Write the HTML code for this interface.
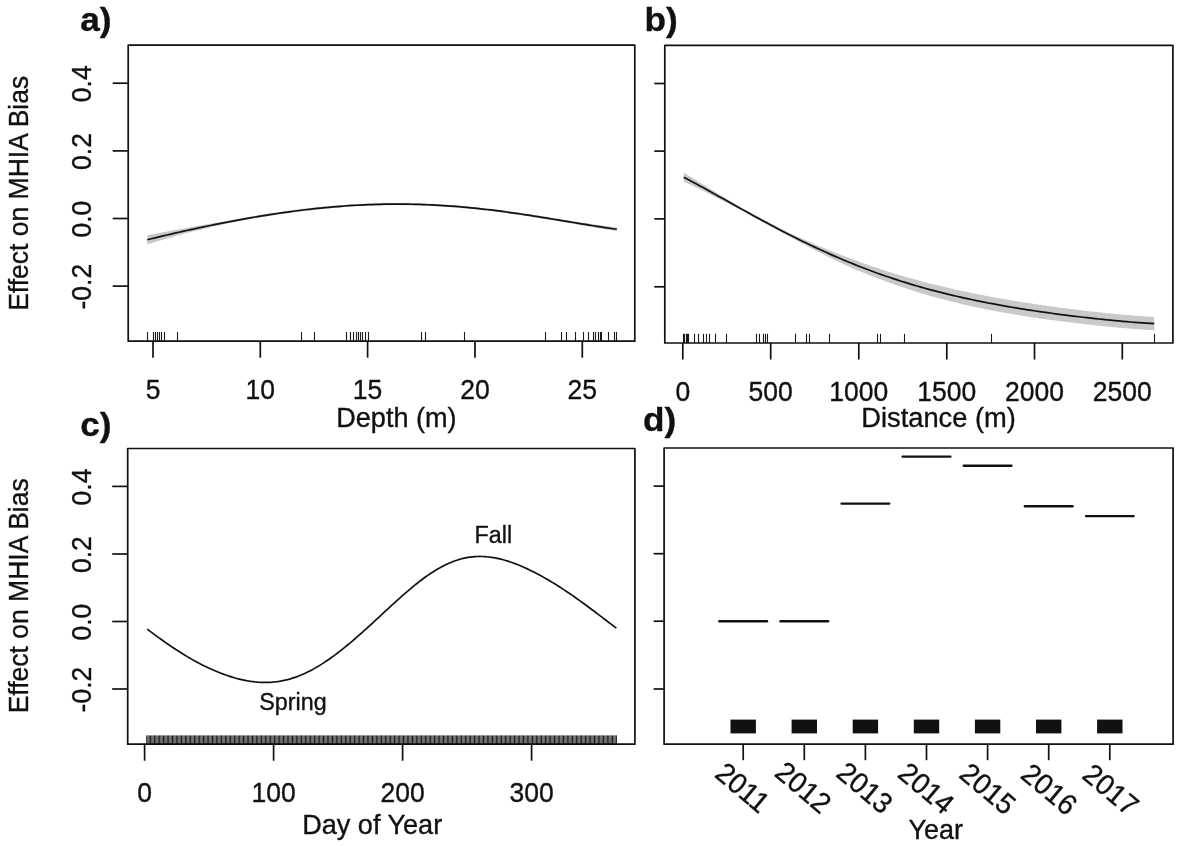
<!DOCTYPE html>
<html lang="en">
<head>
<meta charset="utf-8">
<title>Effect on MHIA Bias - GAM partial effects</title>
<style>
html,body{margin:0;padding:0;background:#fff;}
body{width:1180px;height:846px;overflow:hidden;}
svg{display:block;filter:blur(0.45px);}
svg text{font-family:"Liberation Sans", Arial, Helvetica, sans-serif;fill:#111111;stroke:#111111;stroke-width:0.35px;stroke-linejoin:round;}
</style>
</head>
<body>
<svg width="1180" height="846" viewBox="0 0 1180 846">
<rect x="0" y="0" width="1180" height="846" fill="#ffffff"/>
<rect x="128.20" y="45.20" width="506.60" height="296.00" fill="none" stroke="#111111" stroke-width="1.7" stroke-linejoin="round"/>
<line x1="112.70" y1="83.20" x2="128.20" y2="83.20" stroke="#111111" stroke-width="1.7" stroke-linecap="butt"/>
<text transform="translate(90.80 83.80) rotate(-90) scale(1.0 1.04)" font-size="26.5" text-anchor="middle" font-weight="normal">0.4</text>
<line x1="112.70" y1="150.90" x2="128.20" y2="150.90" stroke="#111111" stroke-width="1.7" stroke-linecap="butt"/>
<text transform="translate(90.80 151.50) rotate(-90) scale(1.0 1.04)" font-size="26.5" text-anchor="middle" font-weight="normal">0.2</text>
<line x1="112.70" y1="218.50" x2="128.20" y2="218.50" stroke="#111111" stroke-width="1.7" stroke-linecap="butt"/>
<text transform="translate(90.80 219.10) rotate(-90) scale(1.0 1.04)" font-size="26.5" text-anchor="middle" font-weight="normal">0.0</text>
<line x1="112.70" y1="286.10" x2="128.20" y2="286.10" stroke="#111111" stroke-width="1.7" stroke-linecap="butt"/>
<text transform="translate(90.80 286.70) rotate(-90) scale(1.0 1.04)" font-size="26.5" text-anchor="middle" font-weight="normal">-0.2</text>
<line x1="153.00" y1="341.20" x2="153.00" y2="357.70" stroke="#111111" stroke-width="1.7" stroke-linecap="butt"/>
<text transform="translate(153.00 399.00) scale(1.0 1.04)" font-size="26.5" text-anchor="middle" font-weight="normal">5</text>
<line x1="260.30" y1="341.20" x2="260.30" y2="357.70" stroke="#111111" stroke-width="1.7" stroke-linecap="butt"/>
<text transform="translate(260.30 399.00) scale(1.0 1.04)" font-size="26.5" text-anchor="middle" font-weight="normal">10</text>
<line x1="367.60" y1="341.20" x2="367.60" y2="357.70" stroke="#111111" stroke-width="1.7" stroke-linecap="butt"/>
<text transform="translate(367.60 399.00) scale(1.0 1.04)" font-size="26.5" text-anchor="middle" font-weight="normal">15</text>
<line x1="475.00" y1="341.20" x2="475.00" y2="357.70" stroke="#111111" stroke-width="1.7" stroke-linecap="butt"/>
<text transform="translate(475.00 399.00) scale(1.0 1.04)" font-size="26.5" text-anchor="middle" font-weight="normal">20</text>
<line x1="582.30" y1="341.20" x2="582.30" y2="357.70" stroke="#111111" stroke-width="1.7" stroke-linecap="butt"/>
<text transform="translate(582.30 399.00) scale(1.0 1.04)" font-size="26.5" text-anchor="middle" font-weight="normal">25</text>
<text transform="translate(396.40 427.20) scale(1.0 1.04)" font-size="27.1" text-anchor="middle" font-weight="normal">Depth (m)</text>
<text transform="translate(27.70 193.30) rotate(-90) scale(1.0 1.04)" font-size="26.5" text-anchor="middle" font-weight="normal">Effect on MHIA Bias</text>
<text transform="translate(80.30 31.20) scale(1.04 1.0)" font-size="33.8" text-anchor="start" font-weight="bold" stroke-width="0.1">a)</text>
<path d="M147.30,235.15 L151.25,234.41 L155.19,233.67 L159.14,232.94 L163.08,232.22 L167.03,231.51 L170.97,230.81 L174.92,230.11 L178.86,229.43 L182.81,228.70 L186.75,227.95 L190.70,227.21 L194.64,226.49 L198.59,225.77 L202.54,225.06 L206.48,224.37 L210.43,223.68 L214.37,223.01 L218.32,222.34 L222.26,221.69 L226.21,221.01 L230.15,220.26 L234.10,219.52 L238.04,218.79 L241.99,218.08 L245.93,217.38 L249.88,216.69 L253.83,216.01 L257.77,215.35 L261.72,214.71 L265.66,214.07 L269.61,213.45 L273.55,212.85 L277.50,212.26 L281.44,211.69 L285.39,211.14 L289.33,210.60 L293.28,210.07 L297.22,209.57 L301.17,209.08 L305.12,208.61 L309.06,208.15 L313.01,207.72 L316.95,207.30 L320.90,206.90 L324.84,206.52 L328.79,206.15 L332.73,205.81 L336.68,205.49 L340.62,205.18 L344.57,204.90 L348.51,204.63 L352.46,204.39 L356.41,204.17 L360.35,203.96 L364.30,203.78 L368.24,203.62 L372.19,203.48 L376.13,203.36 L380.08,203.26 L384.02,203.19 L387.97,203.13 L391.91,203.10 L395.86,203.09 L399.80,203.10 L403.75,203.12 L407.69,203.16 L411.64,203.22 L415.59,203.31 L419.53,203.41 L423.48,203.54 L427.42,203.69 L431.37,203.86 L435.31,204.06 L439.26,204.27 L443.20,204.50 L447.15,204.76 L451.09,205.03 L455.04,205.33 L458.98,205.64 L462.93,205.98 L466.88,206.34 L470.82,206.71 L474.77,207.10 L478.71,207.51 L482.66,207.94 L486.60,208.39 L490.55,208.85 L494.49,209.33 L498.44,209.82 L502.38,210.33 L506.33,210.86 L510.27,211.40 L514.22,211.95 L518.17,212.52 L522.11,213.09 L526.06,213.68 L530.00,214.28 L533.95,214.89 L537.89,215.51 L541.84,216.13 L545.78,216.76 L549.73,217.40 L553.67,218.04 L557.62,218.69 L561.56,219.32 L565.51,219.94 L569.46,220.55 L573.40,221.16 L577.35,221.78 L581.29,222.39 L585.24,222.99 L589.18,223.59 L593.13,224.18 L597.07,224.76 L601.02,225.33 L604.96,225.89 L608.91,226.44 L612.85,226.97 L616.80,227.48 L616.80,231.08 L612.85,230.48 L608.91,229.86 L604.96,229.24 L601.02,228.59 L597.07,227.94 L593.13,227.27 L589.18,226.60 L585.24,225.92 L581.29,225.23 L577.35,224.54 L573.40,223.85 L569.46,223.15 L565.51,222.45 L561.56,221.76 L557.62,221.08 L553.67,220.43 L549.73,219.77 L545.78,219.13 L541.84,218.48 L537.89,217.85 L533.95,217.22 L530.00,216.60 L526.06,216.00 L522.11,215.40 L518.17,214.81 L514.22,214.24 L510.27,213.67 L506.33,213.12 L502.38,212.59 L498.44,212.07 L494.49,211.56 L490.55,211.08 L486.60,210.60 L482.66,210.15 L478.71,209.71 L474.77,209.29 L470.82,208.89 L466.88,208.50 L462.93,208.14 L458.98,207.79 L455.04,207.47 L451.09,207.16 L447.15,206.88 L443.20,206.61 L439.26,206.37 L435.31,206.14 L431.37,205.94 L427.42,205.76 L423.48,205.60 L419.53,205.46 L415.59,205.35 L411.64,205.25 L407.69,205.18 L403.75,205.13 L399.80,205.10 L395.86,205.10 L391.91,205.13 L387.97,205.17 L384.02,205.24 L380.08,205.33 L376.13,205.44 L372.19,205.57 L368.24,205.73 L364.30,205.90 L360.35,206.10 L356.41,206.32 L352.46,206.55 L348.51,206.81 L344.57,207.09 L340.62,207.39 L336.68,207.70 L332.73,208.04 L328.79,208.40 L324.84,208.77 L320.90,209.17 L316.95,209.58 L313.01,210.01 L309.06,210.46 L305.12,210.93 L301.17,211.42 L297.22,211.92 L293.28,212.44 L289.33,212.98 L285.39,213.53 L281.44,214.10 L277.50,214.68 L273.55,215.29 L269.61,215.90 L265.66,216.53 L261.72,217.18 L257.77,217.84 L253.83,218.51 L249.88,219.20 L245.93,219.90 L241.99,220.62 L238.04,221.35 L234.10,222.09 L230.15,222.84 L226.21,223.61 L222.26,224.47 L218.32,225.39 L214.37,226.31 L210.43,227.25 L206.48,228.20 L202.54,229.16 L198.59,230.13 L194.64,231.11 L190.70,232.10 L186.75,233.10 L182.81,234.11 L178.86,235.15 L174.92,236.27 L170.97,237.39 L167.03,238.52 L163.08,239.66 L159.14,240.82 L155.19,241.98 L151.25,243.14 L147.30,244.32 Z" fill="#c9c9c9"/>
<path d="M147.30,239.74 L151.25,238.78 L155.19,237.82 L159.14,236.88 L163.08,235.94 L167.03,235.02 L170.97,234.10 L174.92,233.19 L178.86,232.29 L182.81,231.40 L186.75,230.52 L190.70,229.66 L194.64,228.80 L198.59,227.95 L202.54,227.11 L206.48,226.28 L210.43,225.47 L214.37,224.66 L218.32,223.87 L222.26,223.08 L226.21,222.31 L230.15,221.55 L234.10,220.81 L238.04,220.07 L241.99,219.35 L245.93,218.64 L249.88,217.95 L253.83,217.26 L257.77,216.60 L261.72,215.94 L265.66,215.30 L269.61,214.68 L273.55,214.07 L277.50,213.47 L281.44,212.90 L285.39,212.33 L289.33,211.79 L293.28,211.26 L297.22,210.74 L301.17,210.25 L305.12,209.77 L309.06,209.31 L313.01,208.87 L316.95,208.44 L320.90,208.03 L324.84,207.65 L328.79,207.28 L332.73,206.93 L336.68,206.60 L340.62,206.28 L344.57,205.99 L348.51,205.72 L352.46,205.47 L356.41,205.24 L360.35,205.03 L364.30,204.84 L368.24,204.67 L372.19,204.53 L376.13,204.40 L380.08,204.30 L384.02,204.21 L387.97,204.15 L391.91,204.11 L395.86,204.09 L399.80,204.10 L403.75,204.12 L407.69,204.17 L411.64,204.24 L415.59,204.33 L419.53,204.44 L423.48,204.57 L427.42,204.73 L431.37,204.90 L435.31,205.10 L439.26,205.32 L443.20,205.56 L447.15,205.82 L451.09,206.10 L455.04,206.40 L458.98,206.72 L462.93,207.06 L466.88,207.42 L470.82,207.80 L474.77,208.19 L478.71,208.61 L482.66,209.04 L486.60,209.49 L490.55,209.96 L494.49,210.45 L498.44,210.95 L502.38,211.46 L506.33,211.99 L510.27,212.54 L514.22,213.09 L518.17,213.66 L522.11,214.25 L526.06,214.84 L530.00,215.44 L533.95,216.06 L537.89,216.68 L541.84,217.31 L545.78,217.94 L549.73,218.59 L553.67,219.23 L557.62,219.89 L561.56,220.54 L565.51,221.19 L569.46,221.85 L573.40,222.51 L577.35,223.16 L581.29,223.81 L585.24,224.45 L589.18,225.09 L593.13,225.73 L597.07,226.35 L601.02,226.96 L604.96,227.56 L608.91,228.15 L612.85,228.72 L616.80,229.28" fill="none" stroke="#111111" stroke-width="1.7" stroke-linejoin="round" stroke-linecap="butt"/>
<line x1="147.50" y1="341.20" x2="147.50" y2="332.00" stroke="#1a1a1a" stroke-width="1.1" stroke-linecap="butt"/>
<line x1="153.50" y1="341.20" x2="153.50" y2="332.00" stroke="#1a1a1a" stroke-width="1.1" stroke-linecap="butt"/>
<line x1="155.50" y1="341.20" x2="155.50" y2="332.00" stroke="#1a1a1a" stroke-width="1.1" stroke-linecap="butt"/>
<line x1="157.50" y1="341.20" x2="157.50" y2="332.00" stroke="#1a1a1a" stroke-width="1.1" stroke-linecap="butt"/>
<line x1="159.50" y1="341.20" x2="159.50" y2="332.00" stroke="#1a1a1a" stroke-width="1.1" stroke-linecap="butt"/>
<line x1="161.50" y1="341.20" x2="161.50" y2="332.00" stroke="#1a1a1a" stroke-width="1.1" stroke-linecap="butt"/>
<line x1="164.50" y1="341.20" x2="164.50" y2="332.00" stroke="#1a1a1a" stroke-width="1.1" stroke-linecap="butt"/>
<line x1="177.50" y1="341.20" x2="177.50" y2="332.00" stroke="#1a1a1a" stroke-width="1.1" stroke-linecap="butt"/>
<line x1="301.50" y1="341.20" x2="301.50" y2="332.00" stroke="#1a1a1a" stroke-width="1.1" stroke-linecap="butt"/>
<line x1="314.50" y1="341.20" x2="314.50" y2="332.00" stroke="#1a1a1a" stroke-width="1.1" stroke-linecap="butt"/>
<line x1="346.50" y1="341.20" x2="346.50" y2="332.00" stroke="#1a1a1a" stroke-width="1.1" stroke-linecap="butt"/>
<line x1="350.50" y1="341.20" x2="350.50" y2="332.00" stroke="#1a1a1a" stroke-width="1.1" stroke-linecap="butt"/>
<line x1="353.50" y1="341.20" x2="353.50" y2="332.00" stroke="#1a1a1a" stroke-width="1.1" stroke-linecap="butt"/>
<line x1="356.50" y1="341.20" x2="356.50" y2="332.00" stroke="#1a1a1a" stroke-width="1.1" stroke-linecap="butt"/>
<line x1="358.50" y1="341.20" x2="358.50" y2="332.00" stroke="#1a1a1a" stroke-width="1.1" stroke-linecap="butt"/>
<line x1="360.50" y1="341.20" x2="360.50" y2="332.00" stroke="#1a1a1a" stroke-width="1.1" stroke-linecap="butt"/>
<line x1="362.50" y1="341.20" x2="362.50" y2="332.00" stroke="#1a1a1a" stroke-width="1.1" stroke-linecap="butt"/>
<line x1="365.50" y1="341.20" x2="365.50" y2="332.00" stroke="#1a1a1a" stroke-width="1.1" stroke-linecap="butt"/>
<line x1="368.50" y1="341.20" x2="368.50" y2="332.00" stroke="#1a1a1a" stroke-width="1.1" stroke-linecap="butt"/>
<line x1="421.50" y1="341.20" x2="421.50" y2="332.00" stroke="#1a1a1a" stroke-width="1.1" stroke-linecap="butt"/>
<line x1="425.50" y1="341.20" x2="425.50" y2="332.00" stroke="#1a1a1a" stroke-width="1.1" stroke-linecap="butt"/>
<line x1="464.50" y1="341.20" x2="464.50" y2="332.00" stroke="#1a1a1a" stroke-width="1.1" stroke-linecap="butt"/>
<line x1="545.50" y1="341.20" x2="545.50" y2="332.00" stroke="#1a1a1a" stroke-width="1.1" stroke-linecap="butt"/>
<line x1="561.50" y1="341.20" x2="561.50" y2="332.00" stroke="#1a1a1a" stroke-width="1.1" stroke-linecap="butt"/>
<line x1="566.50" y1="341.20" x2="566.50" y2="332.00" stroke="#1a1a1a" stroke-width="1.1" stroke-linecap="butt"/>
<line x1="575.50" y1="341.20" x2="575.50" y2="332.00" stroke="#1a1a1a" stroke-width="1.1" stroke-linecap="butt"/>
<line x1="583.50" y1="341.20" x2="583.50" y2="332.00" stroke="#1a1a1a" stroke-width="1.1" stroke-linecap="butt"/>
<line x1="588.50" y1="341.20" x2="588.50" y2="332.00" stroke="#1a1a1a" stroke-width="1.1" stroke-linecap="butt"/>
<line x1="593.50" y1="341.20" x2="593.50" y2="332.00" stroke="#1a1a1a" stroke-width="1.1" stroke-linecap="butt"/>
<line x1="595.50" y1="341.20" x2="595.50" y2="332.00" stroke="#1a1a1a" stroke-width="1.1" stroke-linecap="butt"/>
<line x1="598.50" y1="341.20" x2="598.50" y2="332.00" stroke="#1a1a1a" stroke-width="1.1" stroke-linecap="butt"/>
<line x1="600.50" y1="341.20" x2="600.50" y2="332.00" stroke="#1a1a1a" stroke-width="1.1" stroke-linecap="butt"/>
<line x1="601.50" y1="341.20" x2="601.50" y2="332.00" stroke="#1a1a1a" stroke-width="1.1" stroke-linecap="butt"/>
<line x1="608.50" y1="341.20" x2="608.50" y2="332.00" stroke="#1a1a1a" stroke-width="1.1" stroke-linecap="butt"/>
<line x1="614.50" y1="341.20" x2="614.50" y2="332.00" stroke="#1a1a1a" stroke-width="1.1" stroke-linecap="butt"/>
<line x1="616.50" y1="341.20" x2="616.50" y2="332.00" stroke="#1a1a1a" stroke-width="1.1" stroke-linecap="butt"/>
<rect x="664.80" y="45.30" width="508.10" height="297.70" fill="none" stroke="#111111" stroke-width="1.7" stroke-linejoin="round"/>
<line x1="654.30" y1="83.50" x2="664.80" y2="83.50" stroke="#111111" stroke-width="1.7" stroke-linecap="butt"/>
<line x1="654.30" y1="151.10" x2="664.80" y2="151.10" stroke="#111111" stroke-width="1.7" stroke-linecap="butt"/>
<line x1="654.30" y1="218.90" x2="664.80" y2="218.90" stroke="#111111" stroke-width="1.7" stroke-linecap="butt"/>
<line x1="654.30" y1="286.80" x2="664.80" y2="286.80" stroke="#111111" stroke-width="1.7" stroke-linecap="butt"/>
<line x1="682.80" y1="343.00" x2="682.80" y2="359.50" stroke="#111111" stroke-width="1.7" stroke-linecap="butt"/>
<text transform="translate(682.80 400.50) scale(1.0 1.04)" font-size="26.5" text-anchor="middle" font-weight="normal">0</text>
<line x1="770.70" y1="343.00" x2="770.70" y2="359.50" stroke="#111111" stroke-width="1.7" stroke-linecap="butt"/>
<text transform="translate(770.70 400.50) scale(1.0 1.04)" font-size="26.5" text-anchor="middle" font-weight="normal">500</text>
<line x1="858.80" y1="343.00" x2="858.80" y2="359.50" stroke="#111111" stroke-width="1.7" stroke-linecap="butt"/>
<text transform="translate(858.80 400.50) scale(1.0 1.04)" font-size="26.5" text-anchor="middle" font-weight="normal">1000</text>
<line x1="946.80" y1="343.00" x2="946.80" y2="359.50" stroke="#111111" stroke-width="1.7" stroke-linecap="butt"/>
<text transform="translate(946.80 400.50) scale(1.0 1.04)" font-size="26.5" text-anchor="middle" font-weight="normal">1500</text>
<line x1="1034.50" y1="343.00" x2="1034.50" y2="359.50" stroke="#111111" stroke-width="1.7" stroke-linecap="butt"/>
<text transform="translate(1034.50 400.50) scale(1.0 1.04)" font-size="26.5" text-anchor="middle" font-weight="normal">2000</text>
<line x1="1122.30" y1="343.00" x2="1122.30" y2="359.50" stroke="#111111" stroke-width="1.7" stroke-linecap="butt"/>
<text transform="translate(1122.30 400.50) scale(1.0 1.04)" font-size="26.5" text-anchor="middle" font-weight="normal">2500</text>
<text transform="translate(938.60 427.00) scale(1.0 1.04)" font-size="27.3" text-anchor="middle" font-weight="normal">Distance (m)</text>
<text transform="translate(644.60 31.20) scale(1.04 1.0)" font-size="33.8" text-anchor="start" font-weight="bold" stroke-width="0.1">b)</text>
<path d="M683.70,172.63 L687.65,175.02 L691.61,177.42 L695.56,179.85 L699.52,182.29 L703.47,184.75 L707.43,187.15 L711.38,189.53 L715.34,191.91 L719.29,194.29 L723.25,196.68 L727.20,199.07 L731.16,201.46 L735.11,203.85 L739.06,206.23 L743.02,208.45 L746.97,210.61 L750.93,212.75 L754.88,214.89 L758.84,217.02 L762.79,219.13 L766.75,221.23 L770.70,223.31 L774.66,225.37 L778.61,227.42 L782.57,229.45 L786.52,231.46 L790.47,233.43 L794.43,235.25 L798.38,237.05 L802.34,238.83 L806.29,240.59 L810.25,242.32 L814.20,244.03 L818.16,245.71 L822.11,247.36 L826.07,248.99 L830.02,250.59 L833.98,252.16 L837.93,253.71 L841.88,255.23 L845.84,256.72 L849.79,258.18 L853.75,259.61 L857.70,261.07 L861.66,262.54 L865.61,263.97 L869.57,265.38 L873.52,266.75 L877.48,268.10 L881.43,269.42 L885.39,270.72 L889.34,271.98 L893.29,273.22 L897.25,274.43 L901.20,275.61 L905.16,276.77 L909.11,277.90 L913.07,279.00 L917.02,280.08 L920.98,281.13 L924.93,282.16 L928.89,283.16 L932.84,284.14 L936.80,285.09 L940.75,286.04 L944.71,287.00 L948.66,287.94 L952.61,288.86 L956.57,289.75 L960.52,290.63 L964.48,291.48 L968.43,292.32 L972.39,293.13 L976.34,293.93 L980.30,294.71 L984.25,295.47 L988.21,296.21 L992.16,296.93 L996.12,297.65 L1000.07,298.37 L1004.02,299.07 L1007.98,299.76 L1011.93,300.44 L1015.89,301.10 L1019.84,301.74 L1023.80,302.38 L1027.75,302.99 L1031.71,303.60 L1035.66,304.19 L1039.62,304.78 L1043.57,305.35 L1047.53,305.90 L1051.48,306.45 L1055.43,307.00 L1059.39,307.53 L1063.34,308.05 L1067.30,308.57 L1071.25,309.07 L1075.21,309.56 L1079.16,310.04 L1083.12,310.51 L1087.07,310.97 L1091.03,311.42 L1094.98,311.86 L1098.94,312.30 L1102.89,312.72 L1106.84,313.13 L1110.80,313.53 L1114.75,313.91 L1118.71,314.29 L1122.66,314.66 L1126.62,315.01 L1130.57,315.35 L1134.53,315.68 L1138.48,315.99 L1142.44,316.29 L1146.39,316.58 L1150.35,316.85 L1154.30,317.10 L1154.30,330.30 L1150.35,330.06 L1146.39,329.81 L1142.44,329.54 L1138.48,329.25 L1134.53,328.95 L1130.57,328.64 L1126.62,328.31 L1122.66,327.98 L1118.71,327.63 L1114.75,327.26 L1110.80,326.89 L1106.84,326.51 L1102.89,326.11 L1098.94,325.71 L1094.98,325.29 L1091.03,324.87 L1087.07,324.43 L1083.12,323.98 L1079.16,323.53 L1075.21,323.06 L1071.25,322.59 L1067.30,322.10 L1063.34,321.60 L1059.39,321.09 L1055.43,320.58 L1051.48,320.05 L1047.53,319.50 L1043.57,318.95 L1039.62,318.38 L1035.66,317.79 L1031.71,317.20 L1027.75,316.59 L1023.80,315.98 L1019.84,315.34 L1015.89,314.70 L1011.93,314.04 L1007.98,313.36 L1004.02,312.67 L1000.07,311.97 L996.12,311.25 L992.16,310.49 L988.21,309.71 L984.25,308.91 L980.30,308.09 L976.34,307.26 L972.39,306.40 L968.43,305.53 L964.48,304.64 L960.52,303.73 L956.57,302.79 L952.61,301.84 L948.66,300.86 L944.71,299.87 L940.75,298.85 L936.80,297.76 L932.84,296.64 L928.89,295.49 L924.93,294.32 L920.98,293.13 L917.02,291.91 L913.07,290.66 L909.11,289.39 L905.16,288.09 L901.20,286.77 L897.25,285.42 L893.29,284.04 L889.34,282.64 L885.39,281.20 L881.43,279.74 L877.48,278.26 L873.52,276.74 L869.57,275.19 L865.61,273.62 L861.66,272.02 L857.70,270.39 L853.75,268.70 L849.79,266.93 L845.84,265.13 L841.88,263.30 L837.93,261.44 L833.98,259.55 L830.02,257.64 L826.07,255.70 L822.11,253.73 L818.16,251.73 L814.20,249.71 L810.25,247.67 L806.29,245.59 L802.34,243.50 L798.38,241.38 L794.43,239.23 L790.47,237.07 L786.52,235.00 L782.57,232.93 L778.61,230.84 L774.66,228.73 L770.70,226.60 L766.75,224.46 L762.79,222.29 L758.84,220.12 L754.88,217.93 L750.93,215.73 L746.97,213.52 L743.02,211.30 L739.06,209.12 L735.11,207.10 L731.16,205.07 L727.20,203.04 L723.25,201.01 L719.29,198.99 L715.34,196.96 L711.38,194.94 L707.43,192.93 L703.47,190.97 L699.52,189.09 L695.56,187.22 L691.61,185.37 L687.65,183.54 L683.70,181.73 Z" fill="#c9c9c9"/>
<path d="M683.70,177.18 L687.65,179.28 L691.61,181.40 L695.56,183.54 L699.52,185.69 L703.47,187.86 L707.43,190.04 L711.38,192.24 L715.34,194.44 L719.29,196.64 L723.25,198.85 L727.20,201.06 L731.16,203.27 L735.11,205.47 L739.06,207.68 L743.02,209.87 L746.97,212.06 L750.93,214.24 L754.88,216.41 L758.84,218.57 L762.79,220.71 L766.75,222.84 L770.70,224.95 L774.66,227.05 L778.61,229.13 L782.57,231.19 L786.52,233.23 L790.47,235.25 L794.43,237.24 L798.38,239.22 L802.34,241.17 L806.29,243.09 L810.25,244.99 L814.20,246.87 L818.16,248.72 L822.11,250.55 L826.07,252.34 L830.02,254.11 L833.98,255.86 L837.93,257.57 L841.88,259.26 L845.84,260.92 L849.79,262.55 L853.75,264.16 L857.70,265.73 L861.66,267.28 L865.61,268.80 L869.57,270.29 L873.52,271.75 L877.48,273.18 L881.43,274.58 L885.39,275.96 L889.34,277.31 L893.29,278.63 L897.25,279.92 L901.20,281.19 L905.16,282.43 L909.11,283.65 L913.07,284.83 L917.02,285.99 L920.98,287.13 L924.93,288.24 L928.89,289.33 L932.84,290.39 L936.80,291.43 L940.75,292.44 L944.71,293.43 L948.66,294.40 L952.61,295.35 L956.57,296.27 L960.52,297.18 L964.48,298.06 L968.43,298.93 L972.39,299.77 L976.34,300.59 L980.30,301.40 L984.25,302.19 L988.21,302.96 L992.16,303.71 L996.12,304.45 L1000.07,305.17 L1004.02,305.87 L1007.98,306.56 L1011.93,307.24 L1015.89,307.90 L1019.84,308.54 L1023.80,309.18 L1027.75,309.79 L1031.71,310.40 L1035.66,310.99 L1039.62,311.58 L1043.57,312.15 L1047.53,312.70 L1051.48,313.25 L1055.43,313.79 L1059.39,314.31 L1063.34,314.83 L1067.30,315.33 L1071.25,315.83 L1075.21,316.31 L1079.16,316.78 L1083.12,317.25 L1087.07,317.70 L1091.03,318.14 L1094.98,318.58 L1098.94,319.00 L1102.89,319.41 L1106.84,319.82 L1110.80,320.21 L1114.75,320.59 L1118.71,320.96 L1122.66,321.32 L1126.62,321.66 L1130.57,322.00 L1134.53,322.32 L1138.48,322.62 L1142.44,322.91 L1146.39,323.19 L1150.35,323.45 L1154.30,323.70" fill="none" stroke="#111111" stroke-width="1.7" stroke-linejoin="round" stroke-linecap="butt"/>
<line x1="683.50" y1="343.00" x2="683.50" y2="333.80" stroke="#1a1a1a" stroke-width="1.1" stroke-linecap="butt"/>
<line x1="684.50" y1="343.00" x2="684.50" y2="333.80" stroke="#1a1a1a" stroke-width="1.1" stroke-linecap="butt"/>
<line x1="686.50" y1="343.00" x2="686.50" y2="333.80" stroke="#1a1a1a" stroke-width="1.1" stroke-linecap="butt"/>
<line x1="687.50" y1="343.00" x2="687.50" y2="333.80" stroke="#1a1a1a" stroke-width="1.1" stroke-linecap="butt"/>
<line x1="688.50" y1="343.00" x2="688.50" y2="333.80" stroke="#1a1a1a" stroke-width="1.1" stroke-linecap="butt"/>
<line x1="694.50" y1="343.00" x2="694.50" y2="333.80" stroke="#1a1a1a" stroke-width="1.1" stroke-linecap="butt"/>
<line x1="698.50" y1="343.00" x2="698.50" y2="333.80" stroke="#1a1a1a" stroke-width="1.1" stroke-linecap="butt"/>
<line x1="703.50" y1="343.00" x2="703.50" y2="333.80" stroke="#1a1a1a" stroke-width="1.1" stroke-linecap="butt"/>
<line x1="706.50" y1="343.00" x2="706.50" y2="333.80" stroke="#1a1a1a" stroke-width="1.1" stroke-linecap="butt"/>
<line x1="709.50" y1="343.00" x2="709.50" y2="333.80" stroke="#1a1a1a" stroke-width="1.1" stroke-linecap="butt"/>
<line x1="715.50" y1="343.00" x2="715.50" y2="333.80" stroke="#1a1a1a" stroke-width="1.1" stroke-linecap="butt"/>
<line x1="726.50" y1="343.00" x2="726.50" y2="333.80" stroke="#1a1a1a" stroke-width="1.1" stroke-linecap="butt"/>
<line x1="756.50" y1="343.00" x2="756.50" y2="333.80" stroke="#1a1a1a" stroke-width="1.1" stroke-linecap="butt"/>
<line x1="759.50" y1="343.00" x2="759.50" y2="333.80" stroke="#1a1a1a" stroke-width="1.1" stroke-linecap="butt"/>
<line x1="763.50" y1="343.00" x2="763.50" y2="333.80" stroke="#1a1a1a" stroke-width="1.1" stroke-linecap="butt"/>
<line x1="765.50" y1="343.00" x2="765.50" y2="333.80" stroke="#1a1a1a" stroke-width="1.1" stroke-linecap="butt"/>
<line x1="767.50" y1="343.00" x2="767.50" y2="333.80" stroke="#1a1a1a" stroke-width="1.1" stroke-linecap="butt"/>
<line x1="795.50" y1="343.00" x2="795.50" y2="333.80" stroke="#1a1a1a" stroke-width="1.1" stroke-linecap="butt"/>
<line x1="806.50" y1="343.00" x2="806.50" y2="333.80" stroke="#1a1a1a" stroke-width="1.1" stroke-linecap="butt"/>
<line x1="809.50" y1="343.00" x2="809.50" y2="333.80" stroke="#1a1a1a" stroke-width="1.1" stroke-linecap="butt"/>
<line x1="829.50" y1="343.00" x2="829.50" y2="333.80" stroke="#1a1a1a" stroke-width="1.1" stroke-linecap="butt"/>
<line x1="877.50" y1="343.00" x2="877.50" y2="333.80" stroke="#1a1a1a" stroke-width="1.1" stroke-linecap="butt"/>
<line x1="880.50" y1="343.00" x2="880.50" y2="333.80" stroke="#1a1a1a" stroke-width="1.1" stroke-linecap="butt"/>
<line x1="904.50" y1="343.00" x2="904.50" y2="333.80" stroke="#1a1a1a" stroke-width="1.1" stroke-linecap="butt"/>
<line x1="991.50" y1="343.00" x2="991.50" y2="333.80" stroke="#1a1a1a" stroke-width="1.1" stroke-linecap="butt"/>
<line x1="1154.50" y1="343.00" x2="1154.50" y2="333.80" stroke="#1a1a1a" stroke-width="1.1" stroke-linecap="butt"/>
<rect x="127.70" y="448.50" width="507.20" height="295.70" fill="none" stroke="#111111" stroke-width="1.7" stroke-linejoin="round"/>
<line x1="112.20" y1="486.40" x2="127.70" y2="486.40" stroke="#111111" stroke-width="1.7" stroke-linecap="butt"/>
<text transform="translate(90.80 487.00) rotate(-90) scale(1.0 1.04)" font-size="26.5" text-anchor="middle" font-weight="normal">0.4</text>
<line x1="112.20" y1="554.00" x2="127.70" y2="554.00" stroke="#111111" stroke-width="1.7" stroke-linecap="butt"/>
<text transform="translate(90.80 554.60) rotate(-90) scale(1.0 1.04)" font-size="26.5" text-anchor="middle" font-weight="normal">0.2</text>
<line x1="112.20" y1="621.50" x2="127.70" y2="621.50" stroke="#111111" stroke-width="1.7" stroke-linecap="butt"/>
<text transform="translate(90.80 622.10) rotate(-90) scale(1.0 1.04)" font-size="26.5" text-anchor="middle" font-weight="normal">0.0</text>
<line x1="112.20" y1="689.00" x2="127.70" y2="689.00" stroke="#111111" stroke-width="1.7" stroke-linecap="butt"/>
<text transform="translate(90.80 689.60) rotate(-90) scale(1.0 1.04)" font-size="26.5" text-anchor="middle" font-weight="normal">-0.2</text>
<line x1="144.60" y1="744.20" x2="144.60" y2="760.70" stroke="#111111" stroke-width="1.7" stroke-linecap="butt"/>
<text transform="translate(144.60 801.50) scale(1.0 1.04)" font-size="26.5" text-anchor="middle" font-weight="normal">0</text>
<line x1="273.60" y1="744.20" x2="273.60" y2="760.70" stroke="#111111" stroke-width="1.7" stroke-linecap="butt"/>
<text transform="translate(273.60 801.50) scale(1.0 1.04)" font-size="26.5" text-anchor="middle" font-weight="normal">100</text>
<line x1="402.60" y1="744.20" x2="402.60" y2="760.70" stroke="#111111" stroke-width="1.7" stroke-linecap="butt"/>
<text transform="translate(402.60 801.50) scale(1.0 1.04)" font-size="26.5" text-anchor="middle" font-weight="normal">200</text>
<line x1="531.60" y1="744.20" x2="531.60" y2="760.70" stroke="#111111" stroke-width="1.7" stroke-linecap="butt"/>
<text transform="translate(531.60 801.50) scale(1.0 1.04)" font-size="26.5" text-anchor="middle" font-weight="normal">300</text>
<text transform="translate(372.20 833.60) scale(1.0 1.04)" font-size="27.1" text-anchor="middle" font-weight="normal">Day of Year</text>
<text transform="translate(27.70 595.80) rotate(-90) scale(1.0 1.04)" font-size="26.5" text-anchor="middle" font-weight="normal">Effect on MHIA Bias</text>
<text transform="translate(80.30 436.40) scale(1.04 1.0)" font-size="33.8" text-anchor="start" font-weight="bold" stroke-width="0.1">c)</text>
<text transform="translate(293.00 709.60) scale(1.0 1.04)" font-size="23.3" text-anchor="middle" font-weight="normal">Spring</text>
<text transform="translate(493.30 543.40) scale(1.0 1.04)" font-size="23.3" text-anchor="middle" font-weight="normal">Fall</text>
<path d="M147.20,629.15 L149.56,630.92 L151.92,632.68 L154.27,634.42 L156.63,636.15 L158.99,637.86 L161.35,639.56 L163.70,641.23 L166.06,642.89 L168.42,644.52 L170.78,646.13 L173.14,647.71 L175.49,649.27 L177.85,650.80 L180.21,652.30 L182.57,653.77 L184.92,655.22 L187.28,656.63 L189.64,658.02 L192.00,659.37 L194.36,660.69 L196.71,661.98 L199.07,663.23 L201.43,664.45 L203.79,665.64 L206.14,666.80 L208.50,667.92 L210.86,669.00 L213.22,670.05 L215.58,671.06 L217.93,672.04 L220.29,672.98 L222.65,673.88 L225.01,674.74 L227.36,675.57 L229.72,676.35 L232.08,677.09 L234.44,677.79 L236.80,678.45 L239.15,679.06 L241.51,679.62 L243.87,680.14 L246.23,680.61 L248.58,681.03 L250.94,681.40 L253.30,681.71 L255.66,681.97 L258.02,682.18 L260.37,682.33 L262.73,682.42 L265.09,682.45 L267.45,682.42 L269.81,682.33 L272.16,682.18 L274.52,681.96 L276.88,681.68 L279.24,681.34 L281.59,680.93 L283.95,680.45 L286.31,679.91 L288.67,679.31 L291.03,678.63 L293.38,677.89 L295.74,677.09 L298.10,676.22 L300.46,675.28 L302.81,674.29 L305.17,673.23 L307.53,672.10 L309.89,670.92 L312.25,669.68 L314.60,668.38 L316.96,667.02 L319.32,665.61 L321.68,664.14 L324.03,662.62 L326.39,661.06 L328.75,659.44 L331.11,657.78 L333.47,656.07 L335.82,654.32 L338.18,652.53 L340.54,650.70 L342.90,648.83 L345.25,646.93 L347.61,645.00 L349.97,643.03 L352.33,641.04 L354.69,639.02 L357.04,636.97 L359.40,634.90 L361.76,632.81 L364.12,630.70 L366.47,628.58 L368.83,626.44 L371.19,624.28 L373.55,622.12 L375.91,619.95 L378.26,617.77 L380.62,615.59 L382.98,613.41 L385.34,611.23 L387.69,609.05 L390.05,606.88 L392.41,604.72 L394.77,602.57 L397.13,600.43 L399.48,598.31 L401.84,596.22 L404.20,594.14 L406.56,592.09 L408.91,590.08 L411.27,588.09 L413.63,586.14 L415.99,584.23 L418.35,582.36 L420.70,580.53 L423.06,578.76 L425.42,577.03 L427.78,575.36 L430.13,573.75 L432.49,572.20 L434.85,570.70 L437.21,569.28 L439.57,567.92 L441.92,566.63 L444.28,565.41 L446.64,564.27 L449.00,563.20 L451.35,562.20 L453.71,561.29 L456.07,560.45 L458.43,559.69 L460.79,559.01 L463.14,558.42 L465.50,557.90 L467.86,557.46 L470.22,557.10 L472.57,556.82 L474.93,556.62 L477.29,556.50 L479.65,556.45 L482.01,556.48 L484.36,556.58 L486.72,556.75 L489.08,556.99 L491.44,557.30 L493.79,557.67 L496.15,558.11 L498.51,558.61 L500.87,559.16 L503.23,559.78 L505.58,560.45 L507.94,561.17 L510.30,561.95 L512.66,562.77 L515.02,563.64 L517.37,564.55 L519.73,565.51 L522.09,566.51 L524.45,567.55 L526.80,568.63 L529.16,569.74 L531.52,570.89 L533.88,572.07 L536.24,573.29 L538.59,574.54 L540.95,575.81 L543.31,577.12 L545.67,578.46 L548.02,579.83 L550.38,581.22 L552.74,582.64 L555.10,584.09 L557.46,585.57 L559.81,587.07 L562.17,588.59 L564.53,590.14 L566.89,591.71 L569.24,593.30 L571.60,594.92 L573.96,596.56 L576.32,598.21 L578.68,599.89 L581.03,601.58 L583.39,603.29 L585.75,605.02 L588.11,606.76 L590.46,608.51 L592.82,610.28 L595.18,612.05 L597.54,613.83 L599.90,615.62 L602.25,617.42 L604.61,619.21 L606.97,621.01 L609.33,622.81 L611.68,624.60 L614.04,626.39 L616.40,628.17" fill="none" stroke="#111111" stroke-width="1.7" stroke-linejoin="round" stroke-linecap="butt"/>
<path d="M146.69 744.2V735.4M147.98 744.2V735.4M149.27 744.2V735.4M150.56 744.2V735.4M151.85 744.2V735.4M153.14 744.2V735.4M154.43 744.2V735.4M155.72 744.2V735.4M157.01 744.2V735.4M158.31 744.2V735.4M159.60 744.2V735.4M160.89 744.2V735.4M162.18 744.2V735.4M163.47 744.2V735.4M164.76 744.2V735.4M166.05 744.2V735.4M167.34 744.2V735.4M168.63 744.2V735.4M169.92 744.2V735.4M171.21 744.2V735.4M172.50 744.2V735.4M173.79 744.2V735.4M175.08 744.2V735.4M176.37 744.2V735.4M177.66 744.2V735.4M178.95 744.2V735.4M180.24 744.2V735.4M181.53 744.2V735.4M182.82 744.2V735.4M184.12 744.2V735.4M185.41 744.2V735.4M186.70 744.2V735.4M187.99 744.2V735.4M189.28 744.2V735.4M190.57 744.2V735.4M191.86 744.2V735.4M193.15 744.2V735.4M194.44 744.2V735.4M195.73 744.2V735.4M197.02 744.2V735.4M198.31 744.2V735.4M199.60 744.2V735.4M200.89 744.2V735.4M202.18 744.2V735.4M203.47 744.2V735.4M204.76 744.2V735.4M206.05 744.2V735.4M207.34 744.2V735.4M208.63 744.2V735.4M209.93 744.2V735.4M211.22 744.2V735.4M212.51 744.2V735.4M213.80 744.2V735.4M215.09 744.2V735.4M216.38 744.2V735.4M217.67 744.2V735.4M218.96 744.2V735.4M220.25 744.2V735.4M221.54 744.2V735.4M222.83 744.2V735.4M224.12 744.2V735.4M225.41 744.2V735.4M226.70 744.2V735.4M227.99 744.2V735.4M229.28 744.2V735.4M230.57 744.2V735.4M231.86 744.2V735.4M233.15 744.2V735.4M234.44 744.2V735.4M235.74 744.2V735.4M237.03 744.2V735.4M238.32 744.2V735.4M239.61 744.2V735.4M240.90 744.2V735.4M242.19 744.2V735.4M243.48 744.2V735.4M244.77 744.2V735.4M246.06 744.2V735.4M247.35 744.2V735.4M248.64 744.2V735.4M249.93 744.2V735.4M251.22 744.2V735.4M252.51 744.2V735.4M253.80 744.2V735.4M255.09 744.2V735.4M256.38 744.2V735.4M257.67 744.2V735.4M258.96 744.2V735.4M260.25 744.2V735.4M261.55 744.2V735.4M262.84 744.2V735.4M264.13 744.2V735.4M265.42 744.2V735.4M266.71 744.2V735.4M268.00 744.2V735.4M269.29 744.2V735.4M270.58 744.2V735.4M271.87 744.2V735.4M273.16 744.2V735.4M274.45 744.2V735.4M275.74 744.2V735.4M277.03 744.2V735.4M278.32 744.2V735.4M279.61 744.2V735.4M280.90 744.2V735.4M282.19 744.2V735.4M283.48 744.2V735.4M284.77 744.2V735.4M286.06 744.2V735.4M287.36 744.2V735.4M288.65 744.2V735.4M289.94 744.2V735.4M291.23 744.2V735.4M292.52 744.2V735.4M293.81 744.2V735.4M295.10 744.2V735.4M296.39 744.2V735.4M297.68 744.2V735.4M298.97 744.2V735.4M300.26 744.2V735.4M301.55 744.2V735.4M302.84 744.2V735.4M304.13 744.2V735.4M305.42 744.2V735.4M306.71 744.2V735.4M308.00 744.2V735.4M309.29 744.2V735.4M310.58 744.2V735.4M311.87 744.2V735.4M313.16 744.2V735.4M314.46 744.2V735.4M315.75 744.2V735.4M317.04 744.2V735.4M318.33 744.2V735.4M319.62 744.2V735.4M320.91 744.2V735.4M322.20 744.2V735.4M323.49 744.2V735.4M324.78 744.2V735.4M326.07 744.2V735.4M327.36 744.2V735.4M328.65 744.2V735.4M329.94 744.2V735.4M331.23 744.2V735.4M332.52 744.2V735.4M333.81 744.2V735.4M335.10 744.2V735.4M336.39 744.2V735.4M337.68 744.2V735.4M338.98 744.2V735.4M340.27 744.2V735.4M341.56 744.2V735.4M342.85 744.2V735.4M344.14 744.2V735.4M345.43 744.2V735.4M346.72 744.2V735.4M348.01 744.2V735.4M349.30 744.2V735.4M350.59 744.2V735.4M351.88 744.2V735.4M353.17 744.2V735.4M354.46 744.2V735.4M355.75 744.2V735.4M357.04 744.2V735.4M358.33 744.2V735.4M359.62 744.2V735.4M360.91 744.2V735.4M362.20 744.2V735.4M363.49 744.2V735.4M364.78 744.2V735.4M366.08 744.2V735.4M367.37 744.2V735.4M368.66 744.2V735.4M369.95 744.2V735.4M371.24 744.2V735.4M372.53 744.2V735.4M373.82 744.2V735.4M375.11 744.2V735.4M376.40 744.2V735.4M377.69 744.2V735.4M378.98 744.2V735.4M380.27 744.2V735.4M381.56 744.2V735.4M382.85 744.2V735.4M384.14 744.2V735.4M385.43 744.2V735.4M386.72 744.2V735.4M388.01 744.2V735.4M389.30 744.2V735.4M390.60 744.2V735.4M391.89 744.2V735.4M393.18 744.2V735.4M394.47 744.2V735.4M395.76 744.2V735.4M397.05 744.2V735.4M398.34 744.2V735.4M399.63 744.2V735.4M400.92 744.2V735.4M402.21 744.2V735.4M403.50 744.2V735.4M404.79 744.2V735.4M406.08 744.2V735.4M407.37 744.2V735.4M408.66 744.2V735.4M409.95 744.2V735.4M411.24 744.2V735.4M412.53 744.2V735.4M413.82 744.2V735.4M415.11 744.2V735.4M416.40 744.2V735.4M417.70 744.2V735.4M418.99 744.2V735.4M420.28 744.2V735.4M421.57 744.2V735.4M422.86 744.2V735.4M424.15 744.2V735.4M425.44 744.2V735.4M426.73 744.2V735.4M428.02 744.2V735.4M429.31 744.2V735.4M430.60 744.2V735.4M431.89 744.2V735.4M433.18 744.2V735.4M434.47 744.2V735.4M435.76 744.2V735.4M437.05 744.2V735.4M438.34 744.2V735.4M439.63 744.2V735.4M440.92 744.2V735.4M442.22 744.2V735.4M443.51 744.2V735.4M444.80 744.2V735.4M446.09 744.2V735.4M447.38 744.2V735.4M448.67 744.2V735.4M449.96 744.2V735.4M451.25 744.2V735.4M452.54 744.2V735.4M453.83 744.2V735.4M455.12 744.2V735.4M456.41 744.2V735.4M457.70 744.2V735.4M458.99 744.2V735.4M460.28 744.2V735.4M461.57 744.2V735.4M462.86 744.2V735.4M464.15 744.2V735.4M465.44 744.2V735.4M466.73 744.2V735.4M468.02 744.2V735.4M469.32 744.2V735.4M470.61 744.2V735.4M471.90 744.2V735.4M473.19 744.2V735.4M474.48 744.2V735.4M475.77 744.2V735.4M477.06 744.2V735.4M478.35 744.2V735.4M479.64 744.2V735.4M480.93 744.2V735.4M482.22 744.2V735.4M483.51 744.2V735.4M484.80 744.2V735.4M486.09 744.2V735.4M487.38 744.2V735.4M488.67 744.2V735.4M489.96 744.2V735.4M491.25 744.2V735.4M492.54 744.2V735.4M493.84 744.2V735.4M495.13 744.2V735.4M496.42 744.2V735.4M497.71 744.2V735.4M499.00 744.2V735.4M500.29 744.2V735.4M501.58 744.2V735.4M502.87 744.2V735.4M504.16 744.2V735.4M505.45 744.2V735.4M506.74 744.2V735.4M508.03 744.2V735.4M509.32 744.2V735.4M510.61 744.2V735.4M511.90 744.2V735.4M513.19 744.2V735.4M514.48 744.2V735.4M515.77 744.2V735.4M517.06 744.2V735.4M518.35 744.2V735.4M519.64 744.2V735.4M520.94 744.2V735.4M522.23 744.2V735.4M523.52 744.2V735.4M524.81 744.2V735.4M526.10 744.2V735.4M527.39 744.2V735.4M528.68 744.2V735.4M529.97 744.2V735.4M531.26 744.2V735.4M532.55 744.2V735.4M533.84 744.2V735.4M535.13 744.2V735.4M536.42 744.2V735.4M537.71 744.2V735.4M539.00 744.2V735.4M540.29 744.2V735.4M541.58 744.2V735.4M542.87 744.2V735.4M544.16 744.2V735.4M545.46 744.2V735.4M546.75 744.2V735.4M548.04 744.2V735.4M549.33 744.2V735.4M550.62 744.2V735.4M551.91 744.2V735.4M553.20 744.2V735.4M554.49 744.2V735.4M555.78 744.2V735.4M557.07 744.2V735.4M558.36 744.2V735.4M559.65 744.2V735.4M560.94 744.2V735.4M562.23 744.2V735.4M563.52 744.2V735.4M564.81 744.2V735.4M566.10 744.2V735.4M567.39 744.2V735.4M568.68 744.2V735.4M569.97 744.2V735.4M571.26 744.2V735.4M572.56 744.2V735.4M573.85 744.2V735.4M575.14 744.2V735.4M576.43 744.2V735.4M577.72 744.2V735.4M579.01 744.2V735.4M580.30 744.2V735.4M581.59 744.2V735.4M582.88 744.2V735.4M584.17 744.2V735.4M585.46 744.2V735.4M586.75 744.2V735.4M588.04 744.2V735.4M589.33 744.2V735.4M590.62 744.2V735.4M591.91 744.2V735.4M593.20 744.2V735.4M594.49 744.2V735.4M595.78 744.2V735.4M597.08 744.2V735.4M598.37 744.2V735.4M599.66 744.2V735.4M600.95 744.2V735.4M602.24 744.2V735.4M603.53 744.2V735.4M604.82 744.2V735.4M606.11 744.2V735.4M607.40 744.2V735.4M608.69 744.2V735.4M609.98 744.2V735.4M611.27 744.2V735.4M612.56 744.2V735.4M613.85 744.2V735.4M615.14 744.2V735.4M616.43 744.2V735.4" fill="none" stroke="#000" stroke-width="0.9"/>
<rect x="664.10" y="448.00" width="509.00" height="296.20" fill="none" stroke="#111111" stroke-width="1.7" stroke-linejoin="round"/>
<line x1="653.60" y1="486.10" x2="664.10" y2="486.10" stroke="#111111" stroke-width="1.7" stroke-linecap="butt"/>
<line x1="653.60" y1="553.70" x2="664.10" y2="553.70" stroke="#111111" stroke-width="1.7" stroke-linecap="butt"/>
<line x1="653.60" y1="621.20" x2="664.10" y2="621.20" stroke="#111111" stroke-width="1.7" stroke-linecap="butt"/>
<line x1="653.60" y1="689.00" x2="664.10" y2="689.00" stroke="#111111" stroke-width="1.7" stroke-linecap="butt"/>
<line x1="743.20" y1="744.20" x2="743.20" y2="760.20" stroke="#111111" stroke-width="1.7" stroke-linecap="butt"/>
<line x1="719.40" y1="621.20" x2="767.00" y2="621.20" stroke="#111111" stroke-width="2.4" stroke-linecap="round"/>
<rect x="730.50" y="719.6" width="25.4" height="13.8" fill="#111111"/>
<text transform="translate(759.20 814.40) rotate(40) scale(1.0 1.04)" font-size="27.8" text-anchor="end" font-weight="normal">2011</text>
<line x1="804.30" y1="744.20" x2="804.30" y2="760.20" stroke="#111111" stroke-width="1.7" stroke-linecap="butt"/>
<line x1="780.50" y1="621.20" x2="828.10" y2="621.20" stroke="#111111" stroke-width="2.4" stroke-linecap="round"/>
<rect x="791.60" y="719.6" width="25.4" height="13.8" fill="#111111"/>
<text transform="translate(820.70 814.85) rotate(40) scale(1.0 1.04)" font-size="27.8" text-anchor="end" font-weight="normal">2012</text>
<line x1="865.40" y1="744.20" x2="865.40" y2="760.20" stroke="#111111" stroke-width="1.7" stroke-linecap="butt"/>
<line x1="841.60" y1="503.60" x2="889.20" y2="503.60" stroke="#111111" stroke-width="2.4" stroke-linecap="round"/>
<rect x="852.70" y="719.6" width="25.4" height="13.8" fill="#111111"/>
<text transform="translate(882.20 815.30) rotate(40) scale(1.0 1.04)" font-size="27.8" text-anchor="end" font-weight="normal">2013</text>
<line x1="926.50" y1="744.20" x2="926.50" y2="760.20" stroke="#111111" stroke-width="1.7" stroke-linecap="butt"/>
<line x1="902.70" y1="456.60" x2="950.30" y2="456.60" stroke="#111111" stroke-width="2.4" stroke-linecap="round"/>
<rect x="913.80" y="719.6" width="25.4" height="13.8" fill="#111111"/>
<text transform="translate(943.70 815.75) rotate(40) scale(1.0 1.04)" font-size="27.8" text-anchor="end" font-weight="normal">2014</text>
<line x1="987.60" y1="744.20" x2="987.60" y2="760.20" stroke="#111111" stroke-width="1.7" stroke-linecap="butt"/>
<line x1="963.80" y1="465.80" x2="1011.40" y2="465.80" stroke="#111111" stroke-width="2.4" stroke-linecap="round"/>
<rect x="974.90" y="719.6" width="25.4" height="13.8" fill="#111111"/>
<text transform="translate(1005.20 816.20) rotate(40) scale(1.0 1.04)" font-size="27.8" text-anchor="end" font-weight="normal">2015</text>
<line x1="1048.70" y1="744.20" x2="1048.70" y2="760.20" stroke="#111111" stroke-width="1.7" stroke-linecap="butt"/>
<line x1="1024.90" y1="506.20" x2="1072.50" y2="506.20" stroke="#111111" stroke-width="2.4" stroke-linecap="round"/>
<rect x="1036.00" y="719.6" width="25.4" height="13.8" fill="#111111"/>
<text transform="translate(1066.70 816.65) rotate(40) scale(1.0 1.04)" font-size="27.8" text-anchor="end" font-weight="normal">2016</text>
<line x1="1109.80" y1="744.20" x2="1109.80" y2="760.20" stroke="#111111" stroke-width="1.7" stroke-linecap="butt"/>
<line x1="1086.00" y1="516.10" x2="1133.60" y2="516.10" stroke="#111111" stroke-width="2.4" stroke-linecap="round"/>
<rect x="1097.10" y="719.6" width="25.4" height="13.8" fill="#111111"/>
<text transform="translate(1128.20 817.10) rotate(40) scale(1.0 1.04)" font-size="27.8" text-anchor="end" font-weight="normal">2017</text>
<text transform="translate(935.70 839.10) scale(1.0 1.04)" font-size="27.0" text-anchor="middle" font-weight="normal">Year</text>
<text transform="translate(643.10 431.20) scale(1.04 1.0)" font-size="33.8" text-anchor="start" font-weight="bold" stroke-width="0.1">d)</text>
</svg>
</body>
</html>
